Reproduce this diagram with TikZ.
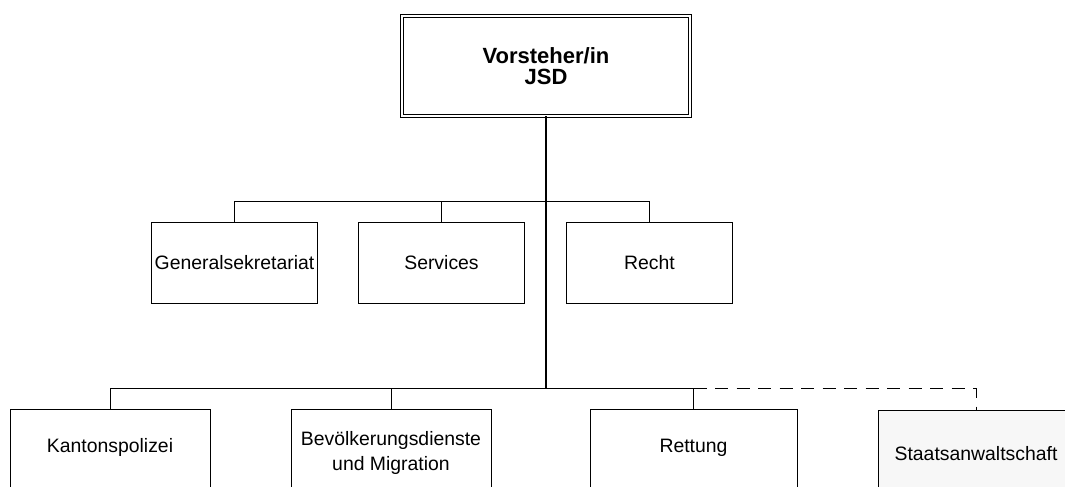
\documentclass[tikz,border=0pt]{standalone}
\usepackage[svgnames]{xcolor}
\usepackage{fontspec}
\setmainfont{Liberation Sans}
\usepackage{tikz}
\usetikzlibrary{
  positioning,
  calc}

\tikzset{
  unit/.style={draw, line width=1pt, inner sep=0pt, align=center,
    font=\fontsize{19.4}{25}\selectfont},
  midunit/.style={unit, minimum width=166pt, minimum height=81pt},
  lowunit/.style={unit, minimum height=86pt, anchor=north},
  raised/.style={text depth=14pt},
  link/.style={line width=1pt},
  trunk/.style={line width=2.2pt}
}

\begin{document}
\begin{tikzpicture}[x=1pt,y=-1pt]
\useasboundingbox (0,0) rectangle (1065,487);

\node[draw, double, line width=0.9pt, double distance=2.2pt, inner sep=0pt,
  minimum width=288pt, minimum height=100pt, align=center,
  font=\bfseries\fontsize{22}{21}\selectfont]
  (head) at (546,66) {Vorsteher/in\\JSD};

\node[midunit] (gensek) at (234.5,262.5) {Generalsekretariat};
\node[midunit] (services) at (441.5,262.5) {Services};
\node[midunit] (recht) at (649.5,262.5) {Recht};

\node[lowunit, raised, minimum width=200pt] (kapo) at (110,409) {Kantonspolizei};
\node[lowunit, minimum width=200pt] (bdm) at (391,409) {Bevölkerungsdienste\\und Migration};
\node[lowunit, raised, minimum width=207pt] (rettung) at (693.5,409) {Rettung};
\node[lowunit, minimum width=196pt, fill=black!3] (sta) at (976,410) {Staatsanwaltschaft};

\coordinate (midbar) at (546,202);
\coordinate (lowbar) at (546,388);

% stem
\draw[trunk] (head.south) -- (lowbar);

% staff units
\draw[link] (gensek.north) -- ++(0,-20) -| (recht.north);
\draw[link] (services.north) -- (services.north |- midbar);

% departments
\draw[link] (kapo.north) -- ++(0,-21) -| (rettung.north);
\draw[link] (bdm.north) -- (bdm.north |- lowbar);
\draw[link, dash pattern=on 13pt off 8.5pt] (rettung.north |- lowbar) -| (sta.north);

\end{tikzpicture}
\end{document}
